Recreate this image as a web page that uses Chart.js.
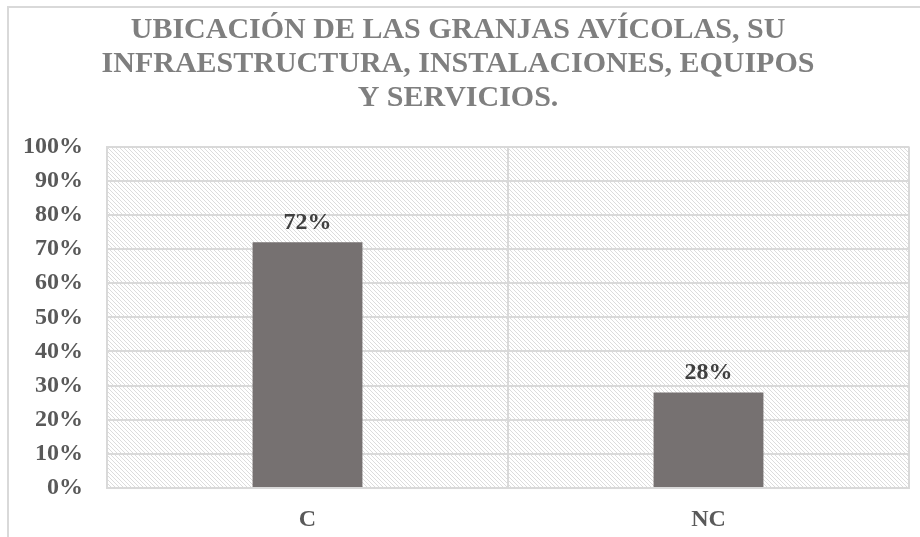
<!DOCTYPE html>
<html>
<head>
<meta charset="utf-8">
<script src="https://cdn.jsdelivr.net/npm/chart.js@4.4.0/dist/chart.umd.min.js"></script>
<style>
  html, body { margin: 0; padding: 0; background: #fff; }
  #wrap { width: 920px; height: 537px; }
</style>
</head>
<body>
<div id="wrap"><canvas id="myChart" width="920" height="537"></canvas></div>
<script>
// chart data
const categories = ["C", "NC"];
const values = [72, 28];
const titleLines = [
  "UBICACIÓN DE LAS GRANJAS AVÍCOLAS, SU",
  "INFRAESTRUCTURA, INSTALACIONES, EQUIPOS",
  "Y SERVICIOS."
];

const serif = "'Liberation Serif', 'Times New Roman', serif";

// hatch pattern for the plot area (diagonal lines)
const makeHatch = () => {
  const c = document.createElement("canvas");
  c.width = 8;
  c.height = 8;
  const g = c.getContext("2d");
  g.fillStyle = "#ffffff";
  g.fillRect(0, 0, 8, 8);
  g.fillStyle = "#dcdcdc";
  for (let y = 0; y < 8; y++) {
    for (let x = 0; x < 8; x++) {
      if ((x - y + 16) % 4 === 0) g.fillRect(x, y, 1, 1);
    }
  }
  return c;
};

const backgroundPlugin = {
  id: "background",
  beforeDraw(chart) {
    const { ctx, chartArea } = chart;
    ctx.save();
    // outer chart border (only left + top visible)
    ctx.strokeStyle = "#d9d9d9";
    ctx.lineWidth = 2;
    ctx.beginPath();
    ctx.moveTo(8, 600);
    ctx.lineTo(8, 7);
    ctx.lineTo(1000, 7);
    ctx.stroke();
    // hatched plot area
    ctx.fillStyle = ctx.createPattern(makeHatch(), "repeat");
    ctx.fillRect(chartArea.left, chartArea.top, chartArea.right - chartArea.left, chartArea.bottom - chartArea.top);
    ctx.restore();
  },
};

// value labels above bars
const labelPlugin = {
  id: "barLabels",
  afterDatasetsDraw(chart) {
    const { ctx } = chart;
    const meta = chart.getDatasetMeta(0);
    ctx.save();
    ctx.font = "bold 24px " + serif;
    ctx.fillStyle = "#404040";
    ctx.textAlign = "center";
    ctx.textBaseline = "alphabetic";
    meta.data.forEach((bar, i) => {
      ctx.fillText(values[i] + "%", bar.x, bar.y - 13);
    });
    ctx.restore();
  },
};

const ctx = document.getElementById("myChart");
const myChart = new Chart(ctx, {
  type: "bar",
  data: {
    labels: categories,
    datasets: [
      {
        data: values,
        backgroundColor: "#767171",
        borderWidth: 0,
        categoryPercentage: 1,
        barPercentage: 0.274,
      },
    ],
  },
  options: {
    responsive: false,
    animation: false,
    layout: { padding: { left: 7, right: 11, top: 0, bottom: 0 } },
    plugins: {
      legend: { display: false },
      tooltip: { enabled: false },
      title: {
        display: true,
        text: titleLines,
        color: "#7f7f7f",
        font: { family: serif, size: 30, weight: "bold", lineHeight: 1.14 },
        padding: { top: 13, bottom: 31 },
      },
    },
    scales: {
      x: {
        grid: { color: "#d9d9d9", lineWidth: 2, drawTicks: false, offset: true },
        border: { color: "#d9d9d9", width: 2 },
        ticks: {
          color: "#595959",
          font: { family: serif, size: 24, weight: "bold" },
          padding: 17,
        },
        afterFit(scale) {
          scale.height = 49;
        },
      },
      y: {
        min: 0,
        max: 100,
        grid: { color: "#d9d9d9", lineWidth: 2, drawTicks: false },
        border: { color: "#d9d9d9", width: 2 },
        ticks: {
          stepSize: 10,
          color: "#595959",
          font: { family: serif, size: 24, weight: "bold" },
          padding: 24,
          callback: (v) => v + "%",
        },
        afterFit(scale) {
          scale.width = 100;
        },
      },
    },
  },
  plugins: [backgroundPlugin, labelPlugin],
});
</script>
</body>
</html>
